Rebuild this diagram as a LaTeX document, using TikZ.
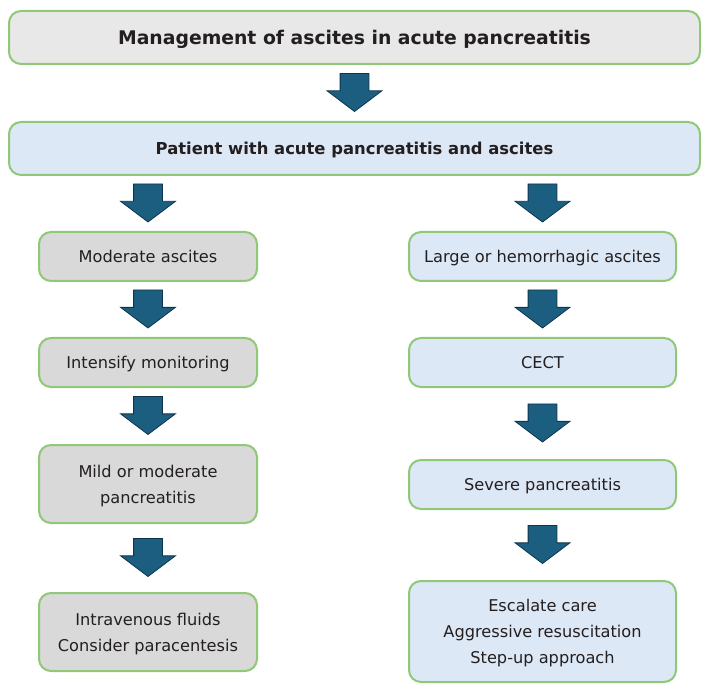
\documentclass[tikz,border=0pt]{standalone}
\usepackage{fontspec}
\setmainfont{DejaVu Sans}
\usepackage{xcolor}
\definecolor{boxgreen}{RGB}{143,200,118}
\definecolor{titlegray}{RGB}{232,232,232}
\definecolor{stepgray}{RGB}{217,217,217}
\definecolor{stepblue}{RGB}{221,232,246}
\definecolor{arrowblue}{RGB}{27,94,128}
\definecolor{arrowedge}{RGB}{16,52,76}
\definecolor{textdark}{RGB}{35,31,32}
\usepackage{tikz}
\usetikzlibrary{shapes.arrows, calc}

\begin{document}
\begin{tikzpicture}[x=1pt, y=-1pt,
    box/.style={draw=boxgreen, line width=2pt, rounded corners=12pt, align=center, inner sep=0pt,
                text depth=0pt, text=textdark, font=\fontsize{16.2}{26}\selectfont},
    headbox/.style={box, font=\bfseries\fontsize{18.8}{22}\selectfont},
    flowarrow/.style={single arrow, draw=arrowedge, fill=arrowblue, line width=0.8pt, anchor=tip,
                      inner xsep=0pt, inner ysep=14pt, minimum height=38pt, minimum width=54pt,
                      single arrow head extend=13pt, single arrow tip angle=106, rotate=-90}]
    \useasboundingbox (0,0) rectangle (701,684);

    \node[headbox, fill=titlegray, minimum width=691pt, minimum height=53pt] (title) at (354.5,37.5) {Management of ascites in acute pancreatitis};
    \node[headbox, fill=stepblue, minimum width=691pt, minimum height=53pt, font=\bfseries\fontsize{16.4}{20}\selectfont] (patient) at (354.5,148.5) {Patient with acute pancreatitis and ascites};

    % left branch
    \node[box, fill=stepgray, minimum width=218pt, minimum height=49pt] (moderate) at (148,256.5) {Moderate ascites};
    \node[box, fill=stepgray, minimum width=218pt, minimum height=49pt] (monitor) at (148,362.5) {Intensify monitoring};
    \node[box, fill=stepgray, minimum width=218pt, minimum height=78pt] (mild) at (148,484) {Mild or moderate\\pancreatitis};
    \node[box, fill=stepgray, minimum width=218pt, minimum height=78pt] (fluids) at (148,632) {Intravenous fluids\\Consider paracentesis};

    % right branch
    \node[box, fill=stepblue, minimum width=267pt, minimum height=49pt] (large) at (542.5,256.5) {Large or hemorrhagic ascites};
    \node[box, fill=stepblue, minimum width=267pt, minimum height=49pt] (cect) at (542.5,362.5) {CECT};
    \node[box, fill=stepblue, minimum width=267pt, minimum height=49pt] (severe) at (542.5,484.5) {Severe pancreatitis};
    \node[box, fill=stepblue, minimum width=267pt, minimum height=101pt] (escalate) at (542.5,631.5) {Escalate care\\Aggressive resuscitation\\Step-up approach};

    % block arrows, tip 19pt below the middle of each gap
    \path ($(title.south)!0.5!(patient.north)$) ++(0,19) node[flowarrow] (a1) {};
    \path ($(patient.south -| moderate.north)!0.5!(moderate.north)$) ++(0,19) node[flowarrow] (a2) {};
    \path ($(moderate.south)!0.5!(monitor.north)$) ++(0,19) node[flowarrow] (a3) {};
    \path ($(monitor.south)!0.5!(mild.north)$) ++(0,19) node[flowarrow] (a4) {};
    \path ($(mild.south)!0.5!(fluids.north)$) ++(0,19) node[flowarrow] (a5) {};
    \path ($(patient.south -| large.north)!0.5!(large.north)$) ++(0,19) node[flowarrow] (a6) {};
    \path ($(large.south)!0.5!(cect.north)$) ++(0,19) node[flowarrow] (a7) {};
    \path ($(cect.south)!0.5!(severe.north)$) ++(0,19) node[flowarrow] (a8) {};
    \path ($(severe.south)!0.5!(escalate.north)$) ++(0,19) node[flowarrow] (a9) {};
\end{tikzpicture}
\end{document}
